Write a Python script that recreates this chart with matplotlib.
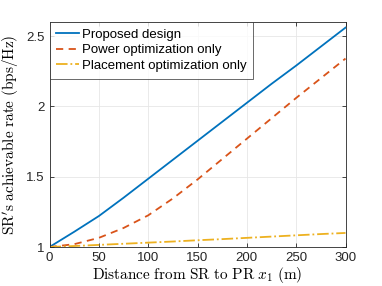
import matplotlib
matplotlib.use("Agg")
from matplotlib import pyplot as plt

plt.rcParams['mathtext.fontset'] = 'cm'
plt.rcParams['font.family'] = ['Liberation Sans', 'DejaVu Sans']

# distance from SR to PR (m)
dist = [0, 25, 50, 75, 100, 125, 150, 175, 200, 225, 250, 275, 300]
proposed = [1.0, 1.108, 1.22, 1.35, 1.485, 1.62, 1.755, 1.89, 2.025, 2.16, 2.29, 2.425, 2.56]
power_only = [1.0, 1.02, 1.065, 1.135, 1.225, 1.345, 1.48, 1.625, 1.77, 1.915, 2.06, 2.20, 2.34]
placement_only = [1.0, 1.007, 1.015, 1.023, 1.031, 1.039, 1.048, 1.056, 1.065, 1.074, 1.083, 1.092, 1.10]

labels = ["Proposed design", "Power optimization only", "Placement optimization only"]
colors = ["#0072BD", "#D95319", "#EDB120"]

fig = plt.figure(figsize=(3.82, 2.86), dpi=100)
ax = fig.add_axes([49.5 / 382, 1 - 247 / 286, 296 / 382, 225 / 286])

ax.plot(dist, proposed, '-', color=colors[0], lw=1.3, label=labels[0])
ax.plot(dist, power_only, '--', color=colors[1], lw=1.3, dashes=(4, 3), label=labels[1])
ax.plot(dist, placement_only, '-.', color=colors[2], lw=1.3, label=labels[2])

ax.set_xlim(0, 300)
ax.set_ylim(1, 2.6)
ax.set_xticks([0, 50, 100, 150, 200, 250, 300])
ax.set_yticks([1, 1.5, 2, 2.5])
ax.set_yticklabels(["1", "1.5", "2", "2.5"])
ax.tick_params(direction='in', top=True, right=True, labelsize=9.5,
               colors='#262626', length=3, width=0.6)
ax.grid(True, color='#e6e6e6', lw=0.6)
for s in ax.spines.values():
    s.set_color('#262626')
    s.set_linewidth(0.6)

ax.set_xlabel(r"$\mathrm{Distance\ from\ SR\ to\ PR}\ x_1\ \mathrm{(m)}$", fontsize=11, labelpad=1)
ax.set_ylabel(r"$\mathrm{SR's\ achievable\ rate\ (bps/Hz)}$", fontsize=11, labelpad=4)

leg = ax.legend(loc='upper left', fontsize=9.5, frameon=True, fancybox=False,
                borderpad=0.5, labelspacing=0.25, handlelength=1.7,
                handletextpad=0.25, borderaxespad=0.0)
leg.get_frame().set_edgecolor('#262626')
leg.get_frame().set_linewidth(0.6)

fig.savefig("out.png", dpi=100)
